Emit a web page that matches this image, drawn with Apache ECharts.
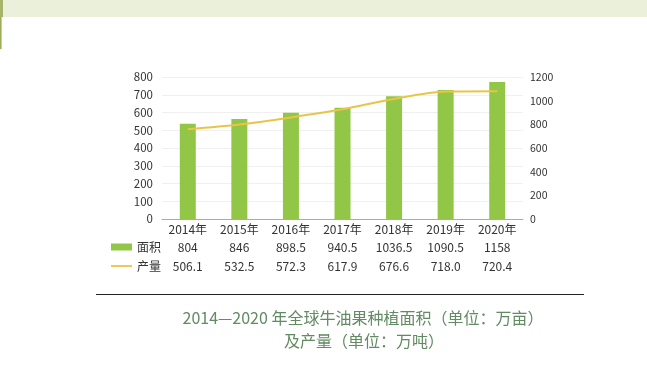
<!DOCTYPE html>
<html><head><meta charset="utf-8">
<script src="https://cdn.jsdelivr.net/npm/echarts@6/dist/echarts.min.js"></script>
<style>html,body{margin:0;padding:0;background:#fff}#c{width:647px;height:365px}</style>
</head><body><div id="c"></div>
<script>
var categories = ['2014年','2015年','2016年','2017年','2018年','2019年','2020年'];
var areaValues = [804, 846, 898.5, 940.5, 1036.5, 1090.5, 1158];
var outputValues = [506.1, 532.5, 572.3, 617.9, 676.6, 718.0, 720.4];
var areaLabels = ['804','846','898.5','940.5','1036.5','1090.5','1158'];
var outputLabels = ['506.1','532.5','572.3','617.9','676.6','718.0','720.4'];
var titleLines = ['2014—2020 年全球牛油果种植面积（单位：万亩）','及产量（单位：万吨）'];

var font = '"Noto Sans CJK SC", "Noto Sans", sans-serif';
var chart = echarts.init(document.getElementById('c'), null, {renderer:'canvas'});
chart.setOption({
  animation:false,
  backgroundColor:'#fff',
  textStyle:{fontFamily:font},
  grid:{left:162, right:124, top:77, bottom:146},
  legend:{
    orient:'vertical', left:106, top:233, itemWidth:21, itemHeight:7, itemGap:1,
    textStyle:{fontSize:12, color:'#333', fontFamily:font, lineHeight:18},
    data:[{name:'面积', icon:'rect'},
          {name:'产量', icon:'path://M0,0M0,7M0,2.6L21,2.6L21,4.4L0,4.4Z'}]
  },
  xAxis:{
    type:'category', data:categories,
    axisLine:{lineStyle:{color:'#aaa'}}, axisTick:{show:false},
    axisLabel:{
      margin:1, interval:0,
      formatter:function(v, i){ return '{a|'+v+'}\n{a|'+areaLabels[i]+'}\n{a|'+outputLabels[i]+'}'; },
      rich:{a:{fontSize:12, color:'#333', lineHeight:18.5, fontFamily:font}}
    }
  },
  yAxis:[
    {type:'value', min:0, max:800, interval:100, position:'left',
     axisLabel:{fontSize:11.5, color:'#333', margin:9},
     splitLine:{lineStyle:{color:'#f0f0f0'}}, axisLine:{show:false}, axisTick:{show:false}},
    {type:'value', min:0, max:1200, interval:200, position:'right',
     axisLabel:{fontSize:10.5, color:'#333', margin:7, formatter:function(v){return String(v);}},
     splitLine:{show:false}, axisLine:{show:false}, axisTick:{show:false}}
  ],
  series:[
    {name:'面积', type:'bar', yAxisIndex:1, data:areaValues, barWidth:16,
     itemStyle:{color:'#92C647'}},
    {name:'产量', type:'line', yAxisIndex:0, data:outputValues, smooth:0.3, symbol:'none',
     lineStyle:{color:'#E9C547', width:2}, itemStyle:{color:'#E9C547'}}
  ],
  graphic:[
    {type:'rect', shape:{x:0,y:0,width:647,height:17}, style:{fill:'#EBF0DA'}, silent:true},
    {type:'rect', shape:{x:0,y:0,width:3,height:17}, style:{fill:'#A6B56A'}, silent:true},
    {type:'rect', shape:{x:0,y:17,width:1.6,height:32}, style:{fill:'#9BAE5A'}, silent:true},
    {type:'line', shape:{x1:96,y1:294.5,x2:584,y2:294.5}, style:{stroke:'#222', lineWidth:1}, silent:true},
    {type:'text', x:363, y:318, style:{text:titleLines[0], fontSize:16, fill:'#628A63', fontFamily:font, textAlign:'center', textVerticalAlign:'middle'}},
    {type:'text', x:364, y:341, style:{text:titleLines[1], fontSize:16, fill:'#628A63', fontFamily:font, textAlign:'center', textVerticalAlign:'middle'}}
  ]
});
</script></body></html>
